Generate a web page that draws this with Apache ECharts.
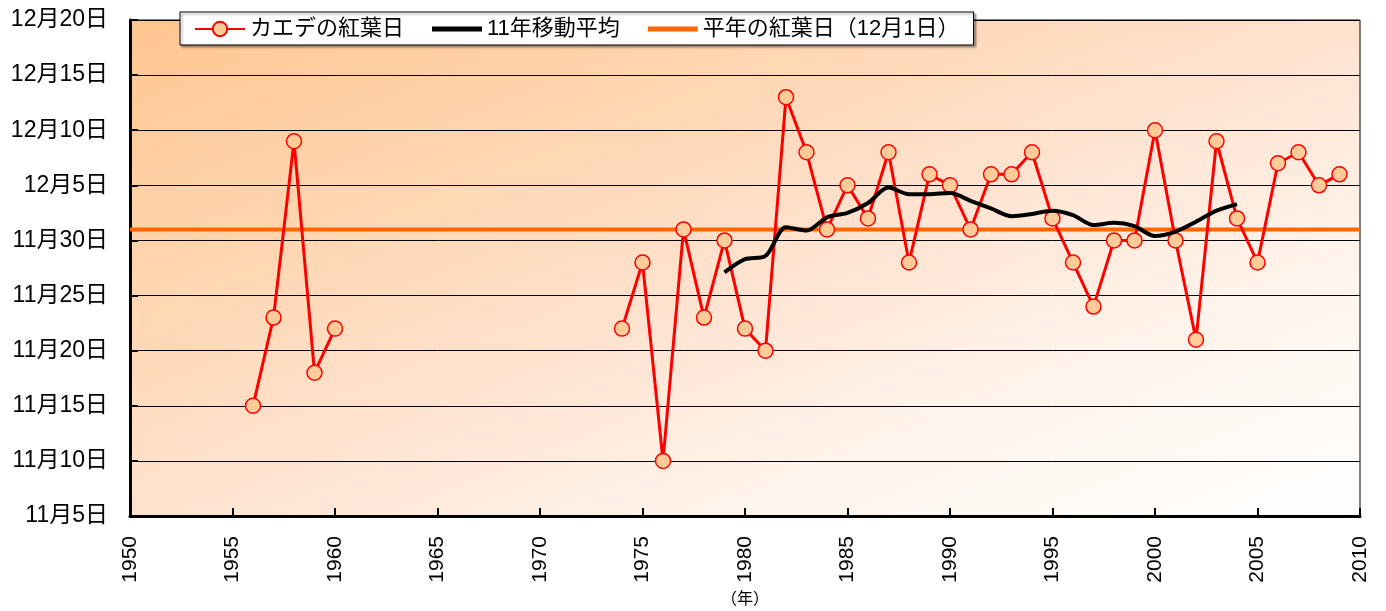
<!DOCTYPE html>
<html>
<head>
<meta charset="utf-8">
<script src="https://cdn.jsdelivr.net/npm/echarts@6/dist/echarts.min.js"></script>
<style>
html,body{margin:0;padding:0;background:#fff;}
#c{width:1386px;height:611px;}
</style>
</head>
<body>
<div id="c"></div>
<script>
// Day values: days counted from Oct 31 (11月5日 = 5, 11月30日 = 30, 12月1日 = 31, 12月20日 = 50)
const mapleYears = [1956,1957,1958,1959,1960,1961,1962,1963,1964,1965,1966,1967,1968,1969,1970,1971,1972,1973,
  1974,1975,1976,1977,1978,1979,1980,1981,1982,1983,1984,1985,1986,1987,1988,1989,1990,1991,1992,1993,1994,1995,
  1996,1997,1998,1999,2000,2001,2002,2003,2004,2005,2006,2007,2008,2009];
const mapleDays = [15,23,39,18,22,null,null,null,null,null,null,null,null,null,null,null,null,null,
  22,28,10,31,23,30,22,20,43,38,31,35,32,38,28,36,35,31,36,36,38,32,
  28,24,30,30,40,30,21,39,32,28,37,38,35,36];
const maYears = [1979,1980,1981,1982,1983,1984,1985,1986,1987,1988,1989,1990,1991,1992,1993,1994,1995,1996,1997,1998,1999,2000,2001,2002,2003,2004];
const maDays = [27.1,28.3,28.6,31.2,30.9,32.1,32.5,33.4,34.8,34.2,34.2,34.3,33.6,32.9,32.2,32.4,32.7,32.3,31.4,31.6,31.3,30.4,30.8,31.7,32.7,33.3];
const normalYears = [1950,2010];
const normalDays = [31,31];
const seriesNames = ['カエデの紅葉日','11年移動平均','平年の紅葉日（12月1日）'];
const xAxisName = '（年）';

const FONT = '"Liberation Sans","Noto Sans CJK JP",sans-serif';
function dayLabel(v){ return v <= 30 ? '11月' + v + '日' : '12月' + (v - 30) + '日'; }
const LINE_ICON = 'path://M0,0M50,18M0,6.5H50V11.5H0Z';

const chart = echarts.init(document.getElementById('c'));
chart.setOption({
  animation:false,
  textStyle:{fontFamily:FONT},
  grid:{left:130,right:26,top:20,bottom:95,outerBoundsMode:'none',containLabel:false,show:true,borderColor:'#000',borderWidth:1,
    backgroundColor:{type:'linear',x:0,y:0,x2:0.28,y2:1.72,colorStops:[
      {offset:0,color:'#FFC690'},{offset:0.28,color:'#FFD6B0'},{offset:0.5,color:'#FFE2CE'},
      {offset:0.72,color:'#FFF3EA'},{offset:1,color:'#FFFFFF'}]}},
  legend:{left:180,top:12,itemWidth:50,itemHeight:18,itemGap:28,padding:[6,14,5,14],
    backgroundColor:'#fff',borderColor:'#000',borderWidth:1,
    shadowColor:'rgba(0,0,0,0.35)',shadowOffsetX:2,shadowOffsetY:2,shadowBlur:2,
    textStyle:{fontSize:22,color:'#000',fontFamily:FONT},
    data:[{name:seriesNames[0]},{name:seriesNames[1],icon:LINE_ICON},{name:seriesNames[2],icon:LINE_ICON}]},
  xAxis:{type:'value',min:1950,max:2010,interval:5,
    name:xAxisName,nameLocation:'middle',nameGap:76,nameTextStyle:{fontSize:16,color:'#000'},
    axisLine:{show:true,onZero:false,lineStyle:{color:'#000',width:3}},
    axisTick:{show:true,inside:true,length:8,lineStyle:{color:'#000',width:2}},
    axisLabel:{rotate:90,fontSize:21,color:'#000',margin:20,formatter:v=>String(v)},
    splitLine:{show:false}},
  yAxis:{type:'value',min:5,max:50,interval:5,
    axisLine:{show:true,lineStyle:{color:'#000',width:3}},
    axisTick:{show:true,inside:true,length:8,lineStyle:{color:'#000',width:2}},
    axisLabel:{fontSize:23,color:'#000',margin:22,formatter:dayLabel},
    splitLine:{show:true,lineStyle:{color:'#000',width:1}}},
  series:[
    {name:seriesNames[2],type:'line',data:normalYears.map((y,i)=>[y,normalDays[i]]),
      symbol:'none',lineStyle:{color:'#FF6600',width:4},itemStyle:{color:'#FF6600'},z:2},
    {name:seriesNames[0],type:'line',data:mapleYears.map((y,i)=>[y,mapleDays[i]===null?'-':mapleDays[i]]),
      symbol:'circle',symbolSize:15,connectNulls:false,
      lineStyle:{color:'#FF0000',width:3},
      itemStyle:{color:'#FFCC99',borderColor:'#FF0000',borderWidth:1.5},z:3},
    {name:seriesNames[1],type:'line',data:maYears.map((y,i)=>[y,maDays[i]]),
      symbol:'none',smooth:0.3,lineStyle:{color:'#000',width:4},itemStyle:{color:'#000'},z:4}
  ]
});
</script>
</body>
</html>
